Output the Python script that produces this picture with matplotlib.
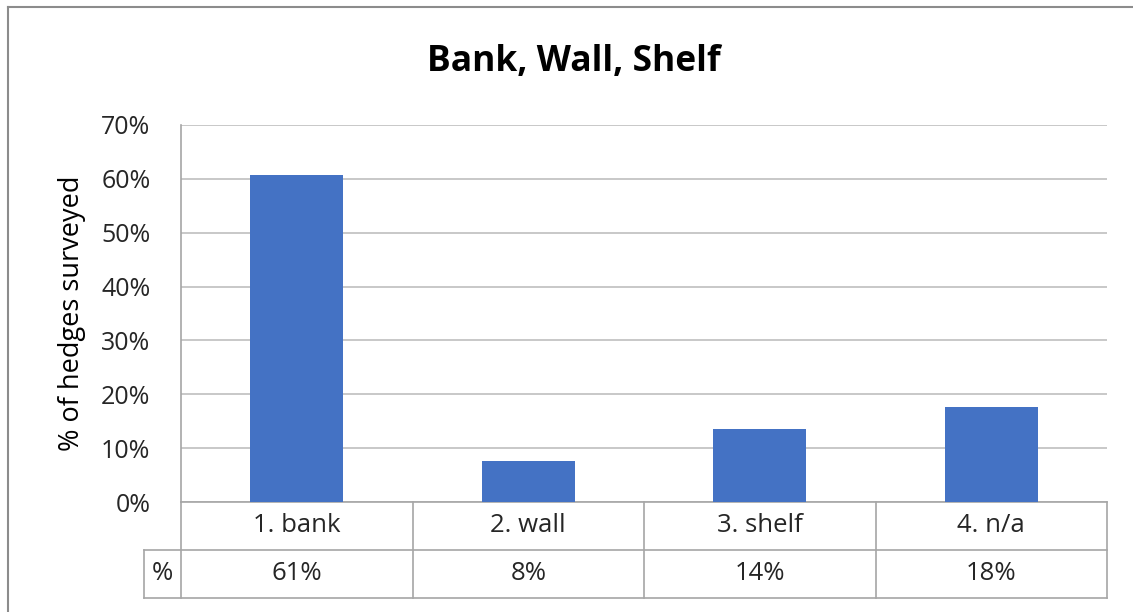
import matplotlib.pyplot as plt
from matplotlib.lines import Line2D
from matplotlib.ticker import PercentFormatter

plt.rcParams['font.family'] = ['Open Sans', 'DejaVu Sans']

categories = ["1. bank", "2. wall", "3. shelf", "4. n/a"]
share = [0.607, 0.076, 0.136, 0.176]
row_label = "%"

BLUE = "#4472C4"
GRID = "#BFBFBF"
LINE = "#A6A6A6"
TEXT = "#262626"
FS = 18

W, H = 1133, 612
fig = plt.figure(figsize=(W / 100, H / 100), dpi=100)

# plot area in pixels: x 181..1107, y 125..502
left, right, top, bottom = 181, 1107, 125, 502
ax = fig.add_axes([left / W, 1 - bottom / H, (right - left) / W, (bottom - top) / H])

x = list(range(len(categories)))
ax.bar(x, share, width=0.4, color=BLUE, zorder=3)

ax.set_xlim(-0.5, len(categories) - 0.5)
ax.set_ylim(0, 0.7)
ax.set_yticks([i / 10 for i in range(8)])
ax.yaxis.set_major_formatter(PercentFormatter(1.0, decimals=0))
ax.tick_params(axis='y', length=0, pad=22, labelsize=FS, labelcolor=TEXT)
ax.set_xticks([])
ax.grid(axis='y', color=GRID, linewidth=1.2, zorder=0)
for side in ["top", "right", "bottom"]:
    ax.spines[side].set_visible(False)
ax.spines["left"].set_color(LINE)
ax.spines["left"].set_linewidth(1.2)

ax.set_ylabel("% of hedges surveyed", fontsize=19.5, color="black", labelpad=11)

# data table below the axis
tr = ax.get_xaxis_transform()
row_h = 48 / (bottom - top)
lw = 1.2
n = len(categories)
head_left = -0.5 - 37 / ((right - left) / n)
for i in range(n + 1):
    ax.add_line(Line2D([i - 0.5, i - 0.5], [0, -2 * row_h], transform=tr,
                       color=LINE, lw=lw, clip_on=False))
for y in (0, -row_h, -2 * row_h):
    x0 = -0.5 if y == 0 else head_left
    ax.add_line(Line2D([x0, n - 0.5], [y, y], transform=tr,
                       color=LINE, lw=lw, clip_on=False))
ax.add_line(Line2D([head_left, head_left], [-row_h, -2 * row_h], transform=tr,
                   color=LINE, lw=lw, clip_on=False))

for i, (cat, v) in enumerate(zip(categories, share)):
    ax.text(i, -row_h / 2, cat, transform=tr, ha='center', va='center',
            fontsize=18.5, color=TEXT)
    ax.text(i, -1.5 * row_h, f"{v * 100:.0f}%", transform=tr, ha='center',
            va='center', fontsize=18.5, color=TEXT)
ax.text((head_left - 0.5) / 2, -1.5 * row_h, row_label, transform=tr,
        ha='center', va='center', fontsize=18.5, color=TEXT)

fig.text(574 / W, 1 - 62 / H, "Bank, Wall, Shelf", ha='center', va='center',
         fontsize=25.5, fontweight='bold', color="black")

# chart frame (left and top edges)
fig.add_artist(Line2D([8 / W, 8 / W], [0, 1 - 7 / H], color="#8C8C8C", lw=1.5,
                      transform=fig.transFigure))
fig.add_artist(Line2D([8 / W, 1], [1 - 7 / H, 1 - 7 / H], color="#8C8C8C", lw=1.5,
                      transform=fig.transFigure))

fig.savefig("out.png", dpi=100)
